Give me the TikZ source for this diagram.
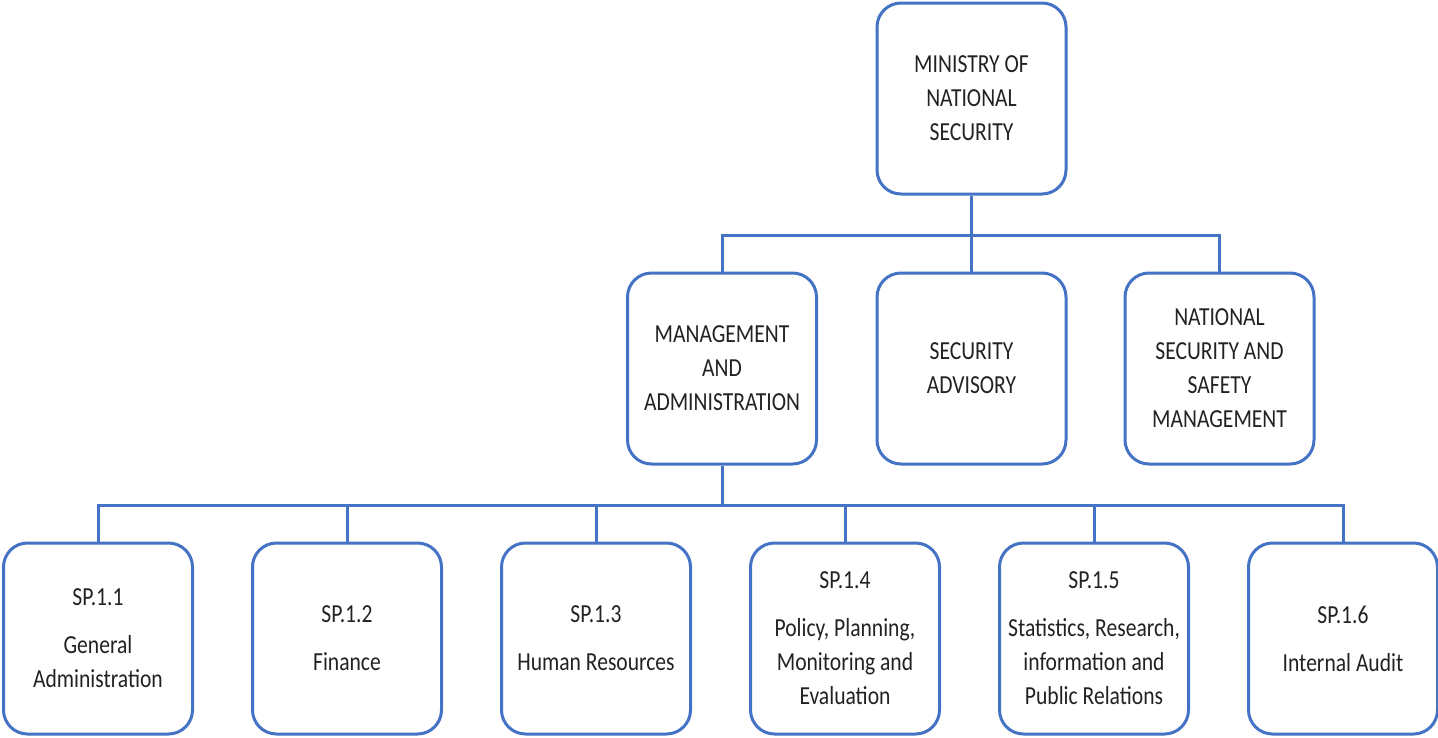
\documentclass[tikz,border=0pt]{standalone}
\usepackage{fontspec}
\setmainfont{Carlito}[FakeStretch=0.83]
\definecolor{boxblue}{HTML}{4472C4}
\definecolor{txt}{HTML}{222222}
\begin{document}
\begin{tikzpicture}[x=1pt,y=-1pt,
  orgbox/.style={draw=boxblue, line width=3pt, fill=white, rounded corners=24pt,
    minimum width=189pt, minimum height=191pt, inner sep=0pt, align=center,
    text=txt, font=\fontsize{26}{34}\selectfont},
  link/.style={draw=boxblue, line width=3pt}]
\useasboundingbox (0,0) rectangle (1438,737);
\node[orgbox] (top) at (971.5,98.5) {MINISTRY OF\\NATIONAL\\SECURITY};
\node[orgbox] (ma) at (722,368.5) {MANAGEMENT\\AND\\ADMINISTRATION};
\node[orgbox] (sa) at (971.5,368.5) {SECURITY\\ADVISORY};
\node[orgbox] (ns) at (1219.5,368.5) {NATIONAL\\SECURITY AND\\SAFETY\\MANAGEMENT};
\node[orgbox] (b1) at (98,638.5) {SP.1.1\\[14pt]General\\Administration};
\node[orgbox] (b2) at (347,638.5) {SP.1.2\\[14pt]Finance};
\node[orgbox] (b3) at (596,638.5) {SP.1.3\\[14pt]Human Resources};
\node[orgbox] (b4) at (845,638.5) {SP.1.4\\[14pt]Policy, Planning,\\Monitoring and\\Evaluation};
\node[orgbox] (b5) at (1094,638.5) {SP.1.5\\[14pt]Statistics, Research,\\information and\\Public Relations};
\node[orgbox] (b6) at (1343,638.5) {SP.1.6\\[14pt]Internal Audit};
\coordinate (bar1) at (971.5,235);
\coordinate (bar2) at (722,505);
\draw[link] (top.south) -- (sa.north);
\draw[link] (ma.north) |- (ns.north |- bar1) -- (ns.north);
\draw[link] (ma.south) -- (bar2);
\draw[link] (b1.north) |- (b6.north |- bar2) -- (b6.north);
\foreach \b in {b2,b3,b4,b5}{\draw[link] (\b.north) -- (\b.north |- bar2);}
\end{tikzpicture}
\end{document}
